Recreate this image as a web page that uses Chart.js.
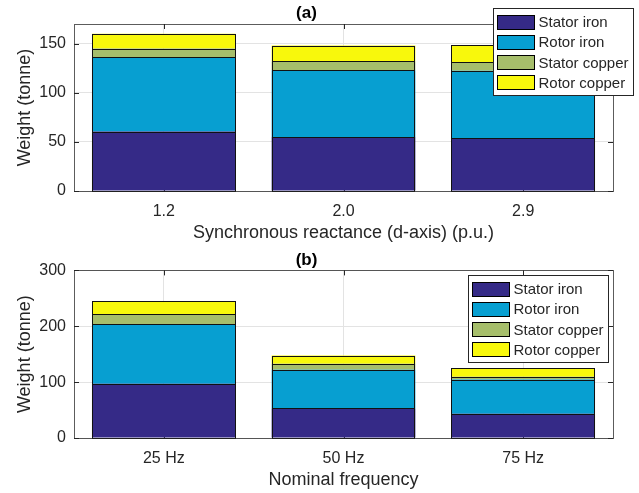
<!DOCTYPE html>
<html>
<head>
<meta charset="utf-8">
<script src="https://cdn.jsdelivr.net/npm/chart.js@4.4.0/dist/chart.umd.min.js"></script>
<style>
  body { margin: 0; background: #fff; }
  #wrap { position: relative; width: 639px; height: 493px; }
  canvas { position: absolute; left: 0; }
</style>
</head>
<body>
<div id="wrap">
  <canvas id="chartA" width="639" height="246" style="top:0"></canvas>
  <canvas id="chartB" width="639" height="247" style="top:246px"></canvas>
</div>
<script>
// 部件名称和颜色
const parts = ['Stator iron', 'Rotor iron', 'Stator copper', 'Rotor copper'];
const partColors = ['#352a87', '#079fd1', '#a6be6b', '#f8f80c'];

// (a) 同步电抗 (d 轴)
const reactanceLabels = ['1.2', '2.0', '2.9'];
const statorIronA = [60.5, 55, 53.5];
const rotorIronA = [75.5, 68, 69];
const statorCopperA = [9, 9, 8.5];
const rotorCopperA = [15, 16, 17.5];
const yTicksA = [0, 50, 100, 150];
const yMaxA = 170;

// (b) 额定频率
const freqLabels = ['25 Hz', '50 Hz', '75 Hz'];
const statorIronB = [97, 53, 43.5];
const rotorIronB = [106.5, 69, 61];
const statorCopperB = [18, 11, 5];
const rotorCopperB = [23.5, 14.5, 15];
const yTicksB = [0, 100, 200, 300];
const yMaxB = 300;

const FONT = "'Liberation Sans', Arial, sans-serif";
const TEXT = '#262626';

// 坐标框和内向刻度
const framePlugin = {
  id: 'frame',
  beforeDatasetsDraw(chart) {
    const {ctx, chartArea: a, scales: {x, y}} = chart;
    const len = 5;
    ctx.save();
    ctx.strokeStyle = TEXT;
    ctx.lineWidth = 1;
    ctx.beginPath();
    y.ticks.forEach(t => {
      const py = Math.round(y.getPixelForValue(t.value)) + 0.5;
      ctx.moveTo(a.left, py); ctx.lineTo(a.left + len, py);
      ctx.moveTo(a.right, py); ctx.lineTo(a.right - len, py);
    });
    x.ticks.forEach((t, i) => {
      const px = Math.round(x.getPixelForTick(i)) + 0.5;
      ctx.moveTo(px, a.top); ctx.lineTo(px, a.top + len);
      ctx.moveTo(px, a.bottom); ctx.lineTo(px, a.bottom - len);
    });
    ctx.stroke();
    ctx.restore();
  },
  afterDatasetsDraw(chart) {
    // 每段柱子画 1px 黑色边框
    const {ctx} = chart;
    ctx.save();
    ctx.strokeStyle = '#111';
    ctx.lineWidth = 1;
    chart.data.datasets.forEach((ds, i) => {
      chart.getDatasetMeta(i).data.forEach(bar => {
        const {x, y, base, width} = bar.getProps(['x', 'y', 'base', 'width'], true);
        const l = Math.round(x - width / 2), r = Math.round(x + width / 2);
        const t = Math.round(Math.min(y, base)), b = Math.round(Math.max(y, base));
        ctx.strokeRect(l + 0.5, t + 0.5, r - l - 1, b - t);
      });
    });
    ctx.restore();
  },
  afterDraw(chart) {
    const {ctx, chartArea: a} = chart;
    ctx.save();
    ctx.strokeStyle = 'rgba(38,38,38,0.75)';
    ctx.lineWidth = 1;
    ctx.strokeRect(Math.round(a.left) + 0.5, Math.round(a.top) + 0.5,
      Math.round(a.right - a.left), Math.round(a.bottom - a.top));
    ctx.restore();
  }
};

// 图例框 (MATLAB 风格)
const boxLegend = {
  id: 'boxLegend',
  afterDraw(chart, args, opts) {
    const {ctx} = chart;
    ctx.save();
    ctx.fillStyle = '#fff';
    ctx.fillRect(opts.x, opts.y, opts.w, opts.h);
    ctx.strokeStyle = TEXT;
    ctx.lineWidth = 1;
    ctx.strokeRect(opts.x + 0.5, opts.y + 0.5, opts.w, opts.h);
    ctx.font = '15px ' + FONT;
    ctx.textBaseline = 'middle';
    chart.data.datasets.forEach((ds, i) => {
      const cy = opts.y + 14 + i * 20.3;
      ctx.fillStyle = ds.backgroundColor;
      ctx.fillRect(opts.x + 4, Math.round(cy - 7.5), 38, 15);
      ctx.strokeStyle = '#000';
      ctx.strokeRect(opts.x + 4.5, Math.round(cy - 7.5) + 0.5, 37, 14);
      ctx.fillStyle = TEXT;
      ctx.fillText(ds.label, opts.x + 45.5, cy + 1);
    });
    ctx.restore();
  }
};

function makeDatasets(series) {
  return parts.map((name, i) => ({
    label: name,
    data: series[i],
    backgroundColor: partColors[i],
    borderWidth: 0,
    inflateAmount: 0,
    categoryPercentage: 1,
    barPercentage: 0.8
  }));
}

function makeChart(id, labels, series, yTicks, yMax, title, xTitle, legendBox, topPad) {
  return new Chart(document.getElementById(id), {
    type: 'bar',
    data: { labels: labels, datasets: makeDatasets(series) },
    options: {
      responsive: false,
      animation: false,
      layout: { padding: { left: 0, right: 26, top: 0, bottom: 0 } },
      scales: {
        x: {
          stacked: true,
          offset: true,
          grid: { offset: false, drawTicks: false, color: '#e3e3e3' },
          border: { display: false },
          ticks: { color: TEXT, font: { family: FONT, size: 16 }, padding: 11 },
          title: { display: true, text: xTitle, color: TEXT,
                   font: { family: FONT, size: 18 }, padding: { top: 0, bottom: 2 } },
          afterFit(scale) { scale.height = 55; }
        },
        y: {
          stacked: true,
          min: 0,
          max: yMax,
          bounds: 'data',
          grid: { drawTicks: false, color: '#e3e3e3' },
          border: { display: false },
          ticks: { color: TEXT, font: { family: FONT, size: 16 }, padding: 8 },
          afterBuildTicks(scale) { scale.ticks = yTicks.map(v => ({ value: v })); },
          title: { display: true, text: 'Weight (tonne)', color: TEXT,
                   font: { family: FONT, size: 18 }, padding: { top: 14, bottom: 0 } },
          afterFit(scale) { scale.width = 74; }
        }
      },
      plugins: {
        legend: { display: false },
        tooltip: { enabled: false },
        title: {
          display: true, text: title, color: '#000',
          font: { family: FONT, size: 17, weight: 'bold' },
          padding: { top: topPad, bottom: 0 }
        },
        boxLegend: legendBox
      }
    },
    plugins: [framePlugin, boxLegend]
  });
}

makeChart('chartA', reactanceLabels,
  [statorIronA, rotorIronA, statorCopperA, rotorCopperA],
  yTicksA, yMaxA, '(a)', 'Synchronous reactance (d-axis) (p.u.)',
  { x: 493, y: 8, w: 140, h: 87 }, 3.6);

makeChart('chartB', freqLabels,
  [statorIronB, rotorIronB, statorCopperB, rotorCopperB],
  yTicksB, yMaxB, '(b)', 'Nominal frequency',
  { x: 468, y: 29, w: 140, h: 87 }, 4);
</script>
</body>
</html>
